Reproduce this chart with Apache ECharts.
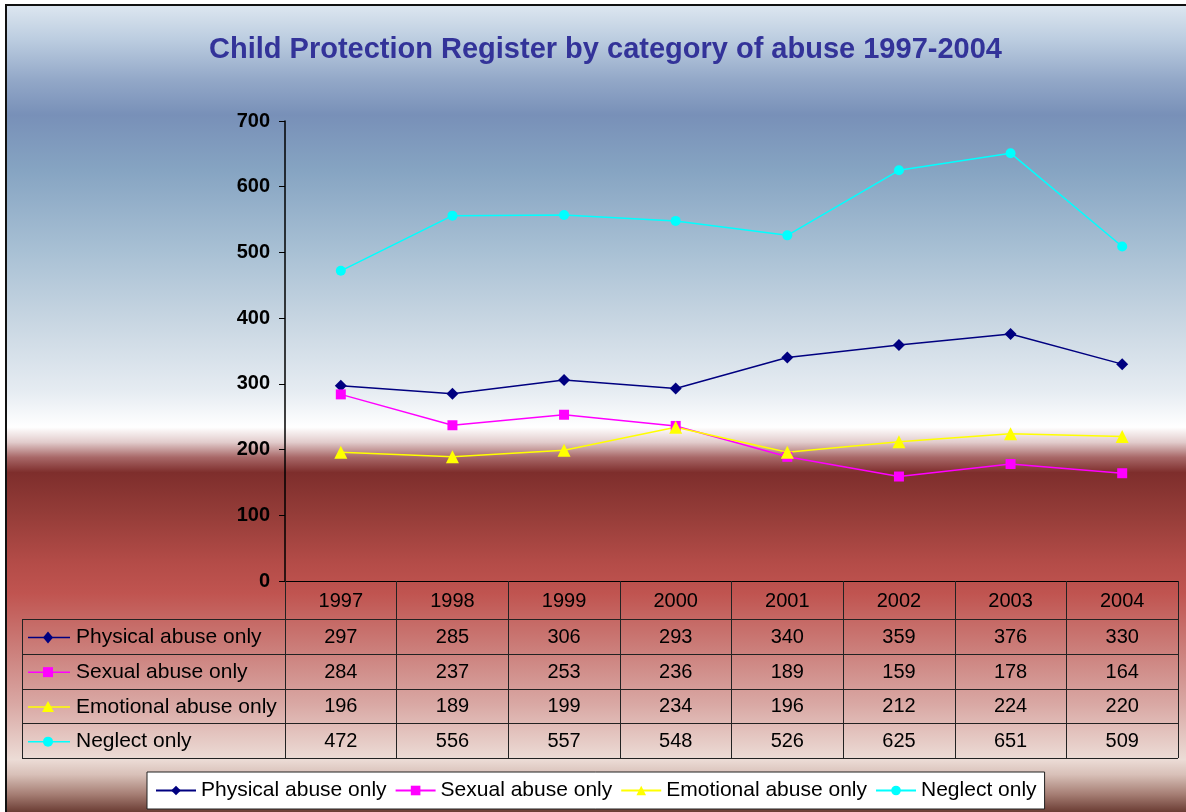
<!DOCTYPE html>
<html>
<head>
<meta charset="utf-8">
<script src="https://cdn.jsdelivr.net/npm/echarts@6/dist/echarts.min.js"></script>
<style>
html, body { margin: 0; padding: 0; background: #fff; }
#chart { width: 1186px; height: 812px; }
</style>
</head>
<body>
<div id="chart"></div>
<script>
// data
const years = ['1997', '1998', '1999', '2000', '2001', '2002', '2003', '2004'];
const physical = [297, 285, 306, 293, 340, 359, 376, 330];
const sexual = [284, 237, 253, 236, 189, 159, 178, 164];
const emotional = [196, 189, 199, 234, 196, 212, 224, 220];
const neglect = [472, 556, 557, 548, 526, 625, 651, 509];
const seriesNames = ['Physical abuse only', 'Sexual abuse only', 'Emotional abuse only', 'Neglect only'];
const yTicks = [0, 100, 200, 300, 400, 500, 600, 700];

const seriesData = [physical, sexual, emotional, neglect];
const colors = ['#000080', '#ff00ff', '#ffff00', '#00ffff'];
const symbols = ['diamond', 'rect', 'triangle', 'circle'];
const symbolSizes = [12, 10, 13, 10];

// layout
const W = 1186, H = 812;
const gridLeft = 285, gridTop = 121, gridRight = 8, gridBottom = 231;
const axisY = H - gridBottom;
const headerH = 38, rowH = 34.75;
const tableLeft = 22, tableRight = W - gridRight;
const font = 'Liberation Sans, Arial, sans-serif';

// background gradient stops (pixel y -> colour)
const bgStops = [
    [8, '#dbe5ef'], [40, '#bccde0'], [80, '#93a8c8'], [115, '#7890b8'],
    [170, '#86a4c2'], [250, '#a8c0d4'], [320, '#c8d6e2'], [390, '#e6ecf2'],
    [425, '#ffffff'], [440, '#e2cccc'], [455, '#a86868'], [470, '#7e2e2c'],
    [510, '#943c38'], [560, '#b44c48'], [590, '#c05450'], [640, '#ca7a76'],
    [700, '#d9a8a4'], [755, '#ecdcd6'], [770, '#d8c0b8'], [790, '#a47c72'],
    [812, '#5a2a22']
];
const bgTop = 5, bgH = H - bgTop;

const graphics = [];
graphics.push({
    type: 'rect', z: -100,
    shape: { x: 6, y: bgTop, width: W, height: bgH + 4 },
    style: {
        fill: {
            type: 'linear', x: 0, y: 0, x2: 0, y2: 1,
            colorStops: bgStops.map(s => ({ offset: Math.max(0, (s[0] - bgTop) / bgH), color: s[1] }))
        },
        stroke: '#111', lineWidth: 2
    }
});

// table lines
const tableTop = axisY + headerH;
for (let k = 0; k <= seriesNames.length; k++) {
    const y = Math.round(tableTop + rowH * k) + 0.5;
    graphics.push({
        type: 'line', z: 5,
        shape: { x1: tableLeft, y1: y, x2: tableRight, y2: y },
        style: { stroke: '#222', lineWidth: 1 }
    });
}
graphics.push({
    type: 'line', z: 5,
    shape: { x1: tableLeft + 0.5, y1: tableTop, x2: tableLeft + 0.5, y2: tableTop + rowH * seriesNames.length },
    style: { stroke: '#222', lineWidth: 1 }
});

// row headers: legend key + name
seriesNames.forEach(function (name, i) {
    const cy = tableTop + rowH * (i + 0.5) + 1;
    const cx = 48;
    graphics.push({
        type: 'line', z: 6,
        shape: { x1: 28, y1: cy, x2: 70, y2: cy },
        style: { stroke: colors[i], lineWidth: 1.5 }
    });
    let mark;
    if (symbols[i] === 'diamond') {
        mark = { type: 'polygon', shape: { points: [[cx, cy - 6], [cx + 5, cy], [cx, cy + 6], [cx - 5, cy]] } };
    } else if (symbols[i] === 'rect') {
        mark = { type: 'rect', shape: { x: cx - 5, y: cy - 5, width: 10, height: 10 } };
    } else if (symbols[i] === 'triangle') {
        mark = { type: 'polygon', shape: { points: [[cx, cy - 6], [cx + 6, cy + 5], [cx - 6, cy + 5]] } };
    } else {
        mark = { type: 'circle', shape: { cx: cx, cy: cy, r: 5 } };
    }
    mark.z = 7;
    mark.style = { fill: colors[i] };
    graphics.push(mark);
    graphics.push({
        type: 'text', z: 7, x: 76, y: cy,
        style: { text: name, fill: '#000', font: '21px ' + font, verticalAlign: 'middle', textAlign: 'left' }
    });
});

// x axes: the first one holds the years, the others print the table rows
const xAxes = [{
    type: 'category',
    data: years,
    boundaryGap: true,
    position: 'bottom',
    axisLine: { show: true, lineStyle: { color: '#000', width: 1 } },
    axisTick: { show: true, interval: 0, length: headerH + rowH * seriesNames.length, lineStyle: { color: '#222', width: 1 } },
    axisLabel: { interval: 0, margin: headerH / 2 + 1, verticalAlign: 'middle', color: '#000', fontSize: 20, fontFamily: font },
    splitLine: { show: false }
}];
seriesData.forEach(function (vals, i) {
    xAxes.push({
        type: 'category',
        data: years,
        position: 'bottom',
        offset: headerH + rowH * (i + 0.5) - headerH / 2 + 1,
        axisLine: { show: false },
        axisTick: { show: false },
        splitLine: { show: false },
        axisLabel: {
            interval: 0, margin: headerH / 2, verticalAlign: 'middle',
            color: '#000', fontSize: 20, fontFamily: font,
            formatter: function (v, idx) { return String(vals[idx]); }
        }
    });
});

const chart = echarts.init(document.getElementById('chart'), null, { renderer: 'canvas' });
const option = {
    animation: false,
    title: {
        text: 'Child Protection Register by category of abuse 1997-2004',
        left: 204,
        top: 30,
        textStyle: { color: '#333399', fontSize: 29, fontWeight: 'bold', fontFamily: font }
    },
    grid: {
        left: gridLeft, top: gridTop, right: gridRight, bottom: gridBottom,
        containLabel: false, outerBoundsMode: 'none'
    },
    xAxis: xAxes,
    yAxis: {
        type: 'value',
        min: yTicks[0],
        max: yTicks[yTicks.length - 1],
        interval: 100,
        axisLine: { show: true, lineStyle: { color: '#000', width: 1.5 } },
        axisTick: { show: true, length: 6, lineStyle: { color: '#000' } },
        axisLabel: { color: '#000', fontSize: 20, fontWeight: 'bold', fontFamily: font, margin: 15 },
        splitLine: { show: false }
    },
    legend: {
        data: seriesNames,
        left: 147,
        bottom: 3,
        orient: 'horizontal',
        itemWidth: 40,
        itemHeight: 12,
        itemGap: 8,
        padding: [8, 8],
        backgroundColor: '#ffffff',
        borderColor: '#222',
        borderWidth: 1,
        textStyle: { color: '#000', fontSize: 21, fontFamily: font }
    },
    series: seriesData.map(function (vals, i) {
        return {
            name: seriesNames[i],
            type: 'line',
            xAxisIndex: 0,
            data: vals,
            symbol: symbols[i],
            symbolSize: symbolSizes[i],
            color: colors[i],
            lineStyle: { color: colors[i], width: 1.5 },
            itemStyle: { color: colors[i] },
            z: 10
        };
    }),
    graphic: graphics
};
chart.setOption(option);
</script>
</body>
</html>
